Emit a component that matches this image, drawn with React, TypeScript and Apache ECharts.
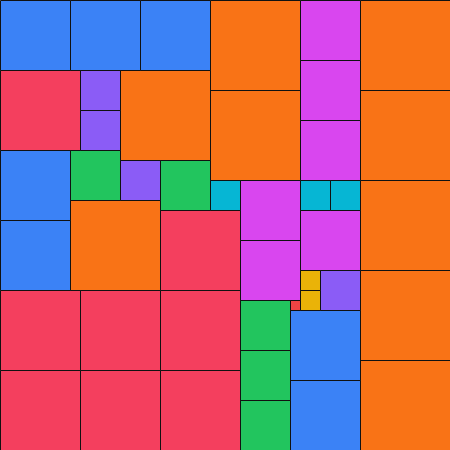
import React, { useEffect, useRef } from "react";
import * as echarts from "echarts";

// Partridge tiling: n squares of side n (n = 1..9) fill a 45 x 45 square.
// Positions are [column, row] of each square's top-left corner, in grid units.
const squareSides = [9, 8, 7, 6, 5, 4, 3, 2, 1];
const sideColors: Record<number, string> = {
  1: "#ef4444",
  2: "#eab308",
  3: "#06b6d4",
  4: "#8b5cf6",
  5: "#22c55e",
  6: "#d946ef",
  7: "#3b82f6",
  8: "#f43f5e",
  9: "#f97316",
};
const side9 = [[21, 0], [36, 0], [36, 9], [36, 18], [36, 27], [36, 36], [21, 9], [12, 7], [7, 20]];
const side8 = [[0, 7], [16, 21], [0, 29], [8, 29], [16, 29], [0, 37], [8, 37], [16, 37]];
const side7 = [[0, 0], [7, 0], [14, 0], [0, 15], [0, 22], [29, 31], [29, 38]];
const side6 = [[30, 0], [30, 6], [30, 12], [24, 18], [24, 24], [30, 21]];
const side5 = [[7, 15], [16, 16], [24, 30], [24, 35], [24, 40]];
const side4 = [[8, 7], [8, 11], [12, 16], [32, 27]];
const side3 = [[21, 18], [30, 18], [33, 18]];
const side2 = [[30, 27], [30, 29]];
const side1 = [[29, 30]];
const boardSize = 45;

const positionsBySide: Record<number, number[][]> = {
  9: side9, 8: side8, 7: side7, 6: side6, 5: side5, 4: side4, 3: side3, 2: side2, 1: side1,
};

export default function App() {
  const ref = useRef<HTMLDivElement>(null);
  useEffect(() => {
    if (!ref.current) return;
    const chart = echarts.init(ref.current, undefined, { renderer: "svg" });
    const data: number[][] = [];
    squareSides.forEach((s) => {
      positionsBySide[s].forEach(([c, r]) => data.push([c, r, s]));
    });
    chart.setOption({
      animation: false,
      grid: { left: 0, right: 0, top: 0, bottom: 0 },
      xAxis: { type: "value", min: 0, max: boardSize, show: false },
      yAxis: { type: "value", min: 0, max: boardSize, inverse: true, show: false },
      series: [
        {
          type: "custom",
          clip: false,
          encode: { x: 0, y: 1 },
          data,
          renderItem: (params: any, api: any) => {
            const x = api.value(0);
            const y = api.value(1);
            const s = api.value(2);
            const p0 = api.coord([x, y]);
            const p1 = api.coord([x + s, y + s]);
            return {
              type: "rect",
              shape: {
                x: Math.round(p0[0]) + 0.5,
                y: Math.round(p0[1]) + 0.5,
                width: Math.round(p1[0]) - Math.round(p0[0]),
                height: Math.round(p1[1]) - Math.round(p0[1]),
              },
              style: { fill: sideColors[s], stroke: "#111111", lineWidth: 1 },
            };
          },
        },
      ],
    });
    return () => chart.dispose();
  }, []);
  return (
    <div
      ref={ref}
      style={{ position: "fixed", left: 0, top: 0, width: 450, height: 450 }}
    />
  );
}
